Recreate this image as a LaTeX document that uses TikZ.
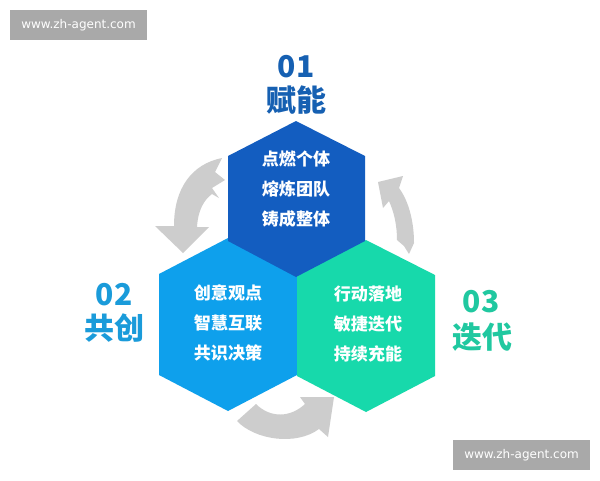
\documentclass[tikz,border=0pt]{standalone}
\usepackage{fontspec}
\newfontfamily\cjk{Noto Sans CJK SC}
\newfontfamily\wmfont{DejaVu Sans}
\definecolor{hexdark}{HTML}{135DC0}
\definecolor{hexlight}{HTML}{0EA0EC}
\definecolor{hexteal}{HTML}{17D9AB}
\definecolor{tdark}{HTML}{1660B2}
\definecolor{tlight}{HTML}{1A9BDA}
\definecolor{tteal}{HTML}{20C8A0}
\definecolor{arrowgray}{HTML}{CDCDCD}
\definecolor{wmgray}{HTML}{A9A9A9}
\tikzset{
  numtext/.style={font=\cjk\bfseries\fontsize{22.5}{24}\selectfont, inner sep=0pt},
  titletext/.style={font=\cjk\bfseries\fontsize{22.5}{24}\selectfont, inner sep=0pt},
  hextext/.style={font=\cjk\bfseries\fontsize{12.8}{22.5}\selectfont, text=white, align=center, inner sep=0pt},
  wmbox/.style={fill=wmgray},
  wmtext/.style={font=\wmfont\fontsize{9}{10}\selectfont, text=white, inner sep=0pt},
  grayarrow/.style={fill=arrowgray}
}
\begin{document}
\begin{tikzpicture}[x=0.75pt,y=-0.75pt]
\useasboundingbox (0,0) rectangle (600,480);
\fill[white] (0,0) rectangle (600,480);
% watermarks
\fill[wmbox] (10,10) rectangle (147,40);
\node[wmtext] (wm1) at (78.5,25) {www.zh-agent.com};
\fill[wmbox] (453,440) rectangle (590,470);
\node[wmtext] (wm2) at (521.5,455) {www.zh-agent.com};
% hexagons
\fill[hexlight] (228,238) -- (297,274) -- (297,375) -- (228,411) -- (159,375) -- (159,274) -- cycle;
\fill[hexteal] (366,240) -- (435,275) -- (435,376) -- (366,412) -- (297,376) -- (297,275) -- cycle;
\fill[hexdark] (296,121) -- (365,156) -- (365,241) -- (296,277) -- (228,241) -- (228,156) -- cycle;
% arrows
\fill[grayarrow] (222,158) .. controls (192,164) and (174,188) .. (174,226)
  -- (155,226) -- (183,253) -- (209,227) -- (197,227)
  .. controls (198,210) and (204,200) .. (212,194)
  -- (219,198) -- (212,188) -- (225,180) -- (215,172) -- cycle;
\fill[grayarrow] (397,240) .. controls (397,225) and (394,212) .. (389,201)
  -- (383,208) -- (378,182) -- (403,176) -- (399,188)
  .. controls (408,200) and (414,220) .. (414,243)
  -- (409,254) -- (404,246) -- cycle;
\fill[grayarrow] (256,404) -- (237,421)
  .. controls (255,440) and (296,446) .. (319,429)
  -- (328,437) -- (334,397) -- (300,397) -- (305,404)
  .. controls (290,418) and (270,418) .. cycle;
% labels
\node[numtext, text=tdark] (n1) at (296,67) {01};
\node[titletext, text=tdark] (t1) at (296,100) {赋能};
\node[numtext, text=tlight] (n2) at (114,295) {02};
\node[titletext, text=tlight] (t2) at (114,328) {共创};
\node[numtext, text=tteal] (n3) at (481,302) {03};
\node[titletext, text=tteal] (t3) at (482,337) {迭代};
% hex texts
\node[hextext] (h1) at (296,189) {点燃个体\\熔炼团队\\铸成整体};
\node[hextext] (h2) at (228,323) {创意观点\\智慧互联\\共识决策};
\node[hextext] (h3) at (368,324) {行动落地\\敏捷迭代\\持续充能};
\end{tikzpicture}
\end{document}
